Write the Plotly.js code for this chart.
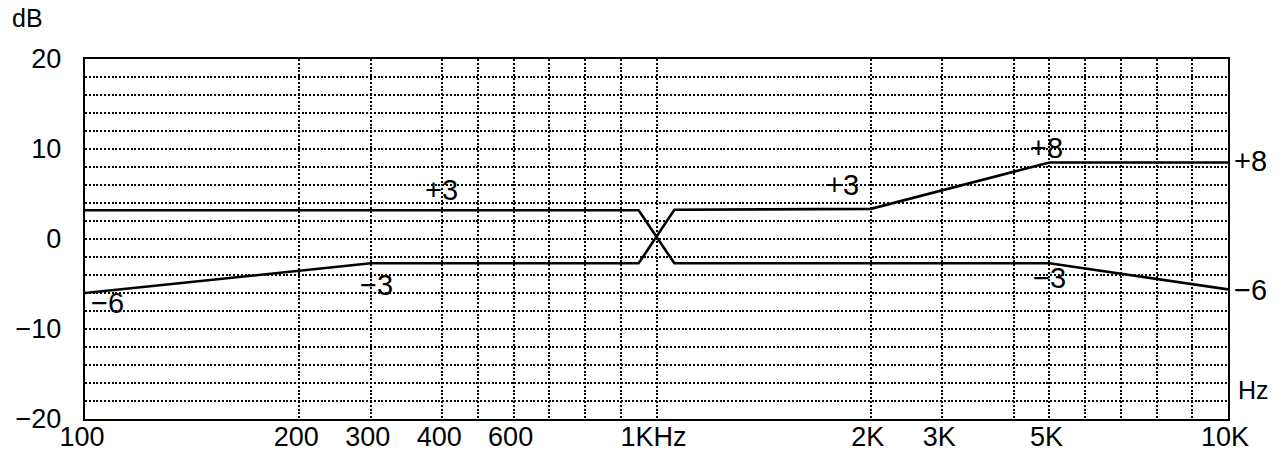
<!DOCTYPE html>
<html>
<head>
<meta charset="utf-8">
<script src="https://cdn.plot.ly/plotly-3.0.1.min.js"></script>
<style>
  html, body { margin: 0; padding: 0; background: #fff; }
  #chart { width: 1283px; height: 454px; }
</style>
</head>
<body>
<div id="chart"></div>
<script>
// X axis is the chart's own graph-paper frequency scale, in grid divisions
// (100 Hz = 0 ... 10 kHz = 32), as printed on the reference.
const xTickCols = [0, 6, 8, 10, 12, 16, 22, 24, 27, 32];
const xTickText = ['100', '200', '300', '400', '600', '1KHz', '2K', '3K', '5K', '10K'];
const xGridCols = [6, 8, 10, 11, 12, 13, 14, 15, 16, 22, 24, 26, 27, 28, 29, 30, 31];

const yTickVals = [-20, -18, -16, -14, -12, -10, -8, -6, -4, -2, 0, 2, 4, 6, 8, 10, 12, 14, 16, 18, 20];
const yTickText = ['\u221220', '', '', '', '', '\u221210', '', '', '', '', '0', '', '', '', '', '10', '', '', '', '', '20'];

// Curve A: +3 dB at low end, crossing at 1 kHz, -3 dB mid, falling to -6 dB at 10K
const curveAx = [0, 15.5, 16.5, 27, 32];
const curveAy = [3.2, 3.2, -2.7, -2.7, -5.6];
// Curve B: -6 dB at 100 Hz, rising to -3, crossing at 1 kHz, +3, rising to +8 dB at 5K
const curveBx = [0, 8, 15.5, 16.5, 22, 27, 32];
const curveBy = [-6.0, -2.7, -2.7, 3.25, 3.35, 8.5, 8.5];

// Text labels drawn inside the chart
const labelText = ['+3', '\u22123', '\u22126', '+3', '+8', '\u22123'];
const labelX    = [9.97, 8.15, 0.62, 21.2, 26.93, 27.0];
const labelY    = [5.5, -5.1, -7.1, 6.0, 10.1, -4.3];
// End-value labels at the right edge of the chart
const endText = ['+8', '\u22126'];
const endY    = [8.7, -5.7];

const FONT = 'Liberation Sans, Arial, Helvetica, sans-serif';
const DOT = '2px,1.8px';

const traces = [
  { x: curveAx, y: curveAy, mode: 'lines', type: 'scatter',
    line: { color: '#000', width: 2.6 }, hoverinfo: 'skip', showlegend: false },
  { x: curveBx, y: curveBy, mode: 'lines', type: 'scatter',
    line: { color: '#000', width: 2.6 }, hoverinfo: 'skip', showlegend: false }
];

const annotations = labelText.map((t, i) => ({
  text: t, x: labelX[i], y: labelY[i], xref: 'x', yref: 'y',
  showarrow: false, xanchor: 'center', yanchor: 'middle',
  font: { family: FONT, size: 29, color: '#000' }
}));
endText.forEach((t, i) => annotations.push({
  text: t, x: 1.0201, y: endY[i], xref: 'paper', yref: 'y',
  showarrow: false, xanchor: 'center', yanchor: 'middle',
  font: { family: FONT, size: 29, color: '#000' }
}));
annotations.push({
  text: 'dB', xref: 'paper', yref: 'paper', x: -0.0505, y: 1.115,
  showarrow: false, xanchor: 'center', yanchor: 'middle',
  font: { family: FONT, size: 25, color: '#000' }
});
annotations.push({
  text: 'Hz', xref: 'paper', yref: 'paper', x: 1.0225, y: 0.08,
  showarrow: false, xanchor: 'center', yanchor: 'middle',
  font: { family: FONT, size: 25, color: '#000' }
});

const layout = {
  width: 1283, height: 454,
  margin: { l: 85, r: 55, t: 59, b: 35, pad: 0 },
  paper_bgcolor: '#fff', plot_bgcolor: '#fff',
  showlegend: false,
  xaxis: {
    type: 'linear', range: [0, 32], fixedrange: true,
    tickmode: 'array', tickvals: xTickCols, ticktext: xTickText,
    ticks: '', showgrid: false, zeroline: false,
    showline: true, mirror: true, linecolor: '#000', linewidth: 2.4,
    tickfont: { family: FONT, size: 27, color: '#000' },
    ticklabelstandoff: -8, ticklabelshift: -3,
    minor: { tickmode: 'array', tickvals: xGridCols, showgrid: true,
             gridcolor: '#000', gridwidth: 2, griddash: DOT, ticks: '' }
  },
  yaxis: {
    range: [-20, 20], fixedrange: true,
    tickmode: 'array', tickvals: yTickVals, ticktext: yTickText,
    ticks: '', showgrid: true, gridcolor: '#000', gridwidth: 2, griddash: DOT,
    zeroline: false,
    showline: true, mirror: true, linecolor: '#000', linewidth: 2.4,
    tickfont: { family: FONT, size: 27, color: '#000' },
    ticklabelstandoff: 16
  },
  annotations: annotations
};

Plotly.newPlot('chart', traces, layout, { staticPlot: true, displayModeBar: false });
</script>
</body>
</html>
